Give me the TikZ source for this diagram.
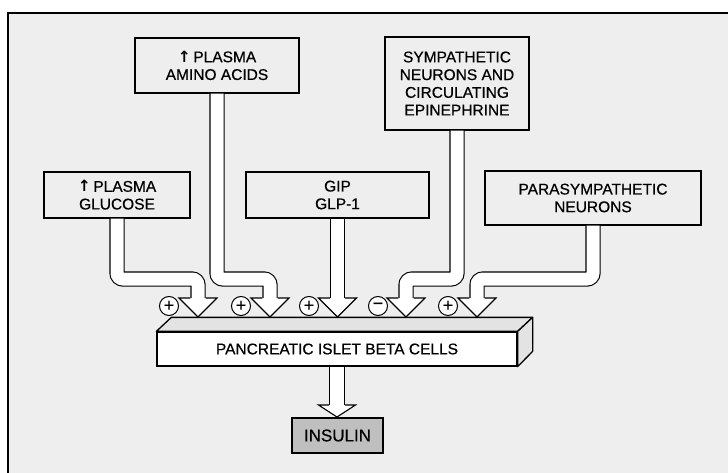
\documentclass[tikz,border=0pt]{standalone}
\usepackage{fontspec}
\setmainfont{Liberation Sans}[FakeBold=0.5]
\newfontfamily\arrfont{DejaVu Sans}
\usetikzlibrary{calc}
\newcommand\upar{{\arrfont\bfseries ↑}}
\newcommand\fathead[1]{\draw[line width=1.1pt, fill=white, line join=miter] ([xshift=-7.6pt]#1) -- ++(-11.4,0) -- ++(19,19) -- ++(19,-19) -- ++(-11.4,0);}
\begin{document}
\begin{tikzpicture}[x=1pt,y=-1pt,
  box/.style={draw, line width=1.3pt, align=center, font=\fontsize{15.5}{17.7}\selectfont, inner sep=0pt},
  fat/.style={draw=black, double=white, double distance=13pt, line width=1.1pt, rounded corners=6pt},
  sign/.style={circle, draw, fill=white, line width=1pt, minimum size=19pt, inner sep=0pt, font=\fontsize{18}{18}\selectfont},
  face/.style={draw, fill=gray!22, line width=1.3pt, line join=round},
]
\useasboundingbox (0,0) rectangle (728,473);
\begin{scope}
\clip (0,0) rectangle (728,473);
\fill[gray!13] (8,13) rectangle (740,480);
\draw[line width=1.8pt] (8,480) -- (8,13) -- (740,13);
\end{scope}

% source boxes
\node[box, minimum width=164, minimum height=55] (amino) at (217,65.5) {\upar\,PLASMA\\AMINO ACIDS};
\node[box, minimum width=146, minimum height=46] (gluc) at (117,195) {\upar\,PLASMA\\GLUCOSE};
\node[box, minimum width=183, minimum height=46] (gip) at (337.5,195) {GIP\\GLP-1};
\node[box, minimum width=144, minimum height=93] (symp) at (457,83.5) {SYMPATHETIC\\NEURONS AND\\CIRCULATING\\EPINEPHRINE};
\node[box, minimum width=216, minimum height=54] (para) at (593,198) {PARASYMPATHETIC\\NEURONS};

% bar (3D)
\node[draw, fill=white, line width=1.3pt, minimum width=360, minimum height=34, inner sep=0pt, font=\fontsize{15.5}{15.5}\selectfont] (bar) at (337,349) {PANCREATIC ISLET BETA CELLS};
\draw[face] (bar.north west) -- ++(15,-14) -- ($(bar.north east)+(15,-14)$) -- (bar.north east) -- cycle;
\draw[face] (bar.north east) -- ++(15,-14) -- ++(0,34) -- (bar.south east) -- cycle;

% insulin
\node[draw, fill=gray!50, line width=1.3pt, minimum width=91, minimum height=35, inner sep=0pt, font=\fontsize{17}{17}\selectfont] (ins) at (337.5,435.5) {INSULIN};

% arrow head tops and bends
\coordinate (a1) at (198,298);
\coordinate (a2) at (270,298);
\coordinate (a3) at (337.5,298);
\coordinate (a4) at (406,298);
\coordinate (a5) at (477,298);
\coordinate (k1) at (198,279);
\coordinate (k2) at (270,279);
\coordinate (k4) at (406,279);
\coordinate (k5) at (477,279);
\coordinate (a6) at (337,405);

\draw[fat] (gluc.south) |- (k1) -- ([yshift=-1pt]a1);
\draw[fat] (amino.south) |- (k2) -- ([yshift=-1pt]a2);
\draw[fat] (gip.south) -- ([yshift=-1pt]a3);
\draw[fat] (symp.south) |- (k4) -- ([yshift=-1pt]a4);
\draw[fat] (para.south) |- (k5) -- ([yshift=-1pt]a5);
\fathead{a1}
\fathead{a2}
\fathead{a3}
\fathead{a4}
\fathead{a5}

\draw[fat, double distance=14pt] (bar.south) -- ([yshift=-1pt]a6);
\draw[line width=1.1pt, fill=white, line join=miter] ([xshift=-8pt]a6) -- ++(-10.5,0) -- ++(18.5,12) -- ++(18.5,-12) -- ++(-10.5,0);

% signs
\node[sign] (s1) at (169,306) {+};
\node[sign] (s2) at (241,306) {+};
\node[sign] (s3) at (309,306) {+};
\node[sign] (s4) at (378,306) {−};
\node[sign] (s5) at (448,306) {+};
\end{tikzpicture}
\end{document}
